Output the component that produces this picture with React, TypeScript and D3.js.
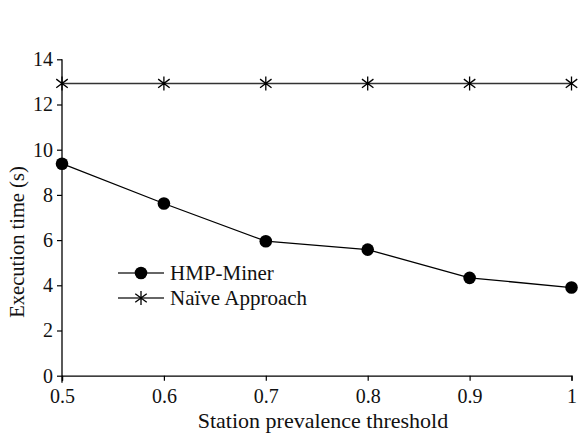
import React, { useEffect, useRef } from "react"
import * as d3 from "d3"

const thresholds = [0.5, 0.6, 0.7, 0.8, 0.9, 1]
const hmpMiner = [9.38, 7.62, 5.95, 5.58, 4.33, 3.9]
const naive = [12.93, 12.93, 12.93, 12.93, 12.93, 12.93]
const xTicks = [0.5, 0.6, 0.7, 0.8, 0.9, 1]
const yTicks = [0, 2, 4, 6, 8, 10, 12, 14]

const W = 581, H = 438
const left = 62, right = 571.5, top = 59.3, bottom = 375.7
const font = "'Liberation Serif', 'Times New Roman', 'DejaVu Serif', serif"

function starPath(s: number) {
  const a = s * 0.82, b = s * 0.62
  return `M0,${-s}L0,${s}M${-a},${-b}L${a},${b}M${-a},${b}L${a},${-b}`
}

export default function App() {
  const ref = useRef<SVGSVGElement>(null)

  useEffect(() => {
    const svg = d3.select(ref.current)
    svg.selectAll("*").remove()

    const x = d3.scaleLinear().domain([0.5, 1]).range([left, right])
    const y = d3.scaleLinear().domain([0, 14]).range([bottom, top])

    const xAxis = d3.axisBottom(x).tickValues(xTicks).tickSize(5).tickPadding(8)
      .tickFormat(d => (d === 1 ? "1" : d3.format(".1f")(d as number)))
    const yAxis = d3.axisLeft(y).tickValues(yTicks).tickSize(5).tickPadding(4)

    const gx = svg.append("g").attr("transform", `translate(0,${bottom})`).call(xAxis)
    const gy = svg.append("g").attr("transform", `translate(${left},0)`).call(yAxis)
    for (const g of [gx, gy]) {
      g.attr("font-family", null).attr("font-size", null)
      g.select(".domain").attr("stroke", "#000").attr("stroke-width", 1.3)
      g.selectAll(".tick line").attr("stroke", "#000").attr("stroke-width", 1.2)
      g.selectAll(".tick text").attr("fill", "#111").style("font-family", font).style("font-size", "20px")
    }
    gy.select(".domain").attr("d", `M0,${bottom + 7}V${top}`)

    // axis titles
    svg.append("text").attr("x", 323).attr("y", 428).attr("text-anchor", "middle")
      .style("font-family", font).style("font-size", "22px").attr("fill", "#111").text("Station prevalence threshold")
    svg.append("text").attr("transform", "translate(24,242) rotate(-90)").attr("text-anchor", "middle")
      .style("font-family", font).style("font-size", "20.5px").attr("fill", "#111").text("Execution time (s)")

    const line = d3.line<number>().x((_, i) => x(thresholds[i])).y(d => y(d))

    // Naive approach
    svg.append("path").datum(naive).attr("d", line).attr("fill", "none").attr("stroke", "#333").attr("stroke-width", 1.4)
    svg.selectAll(".star").data(naive).join("path").attr("class", "star")
      .attr("transform", (d, i) => `translate(${x(thresholds[i])},${y(d)})`)
      .attr("d", starPath(7)).attr("stroke", "#000").attr("stroke-width", 1.3).attr("fill", "none")

    // HMP-Miner
    svg.append("path").datum(hmpMiner).attr("d", line).attr("fill", "none").attr("stroke", "#000").attr("stroke-width", 1.3)
    svg.selectAll(".dot").data(hmpMiner).join("circle").attr("class", "dot")
      .attr("cx", (_, i) => x(thresholds[i])).attr("cy", d => y(d)).attr("r", 6.3).attr("fill", "#000")

    // legend
    const legend = svg.append("g").attr("transform", "translate(118,273)")
    const items = [{ name: "HMP-Miner", mark: "dot" }, { name: "Naïve Approach", mark: "star" }]
    items.forEach((it, i) => {
      const g = legend.append("g").attr("transform", `translate(0,${i * 25})`)
      g.append("line").attr("x1", 0).attr("x2", 46).attr("stroke", "#333").attr("stroke-width", 1.4)
      if (it.mark === "dot") g.append("circle").attr("cx", 23).attr("r", 6.3).attr("fill", "#000")
      else g.append("path").attr("transform", "translate(23,0)").attr("d", starPath(7)).attr("stroke", "#000").attr("stroke-width", 1.3).attr("fill", "none")
      g.append("text").attr("x", 52).attr("y", 6.5).style("font-family", font).style("font-size", "21px").attr("fill", "#111").text(it.name)
    })
  }, [])

  return <svg ref={ref} width={W} height={H} style={{ position: "absolute", left: 0, top: 0, background: "#fff" }} />
}
